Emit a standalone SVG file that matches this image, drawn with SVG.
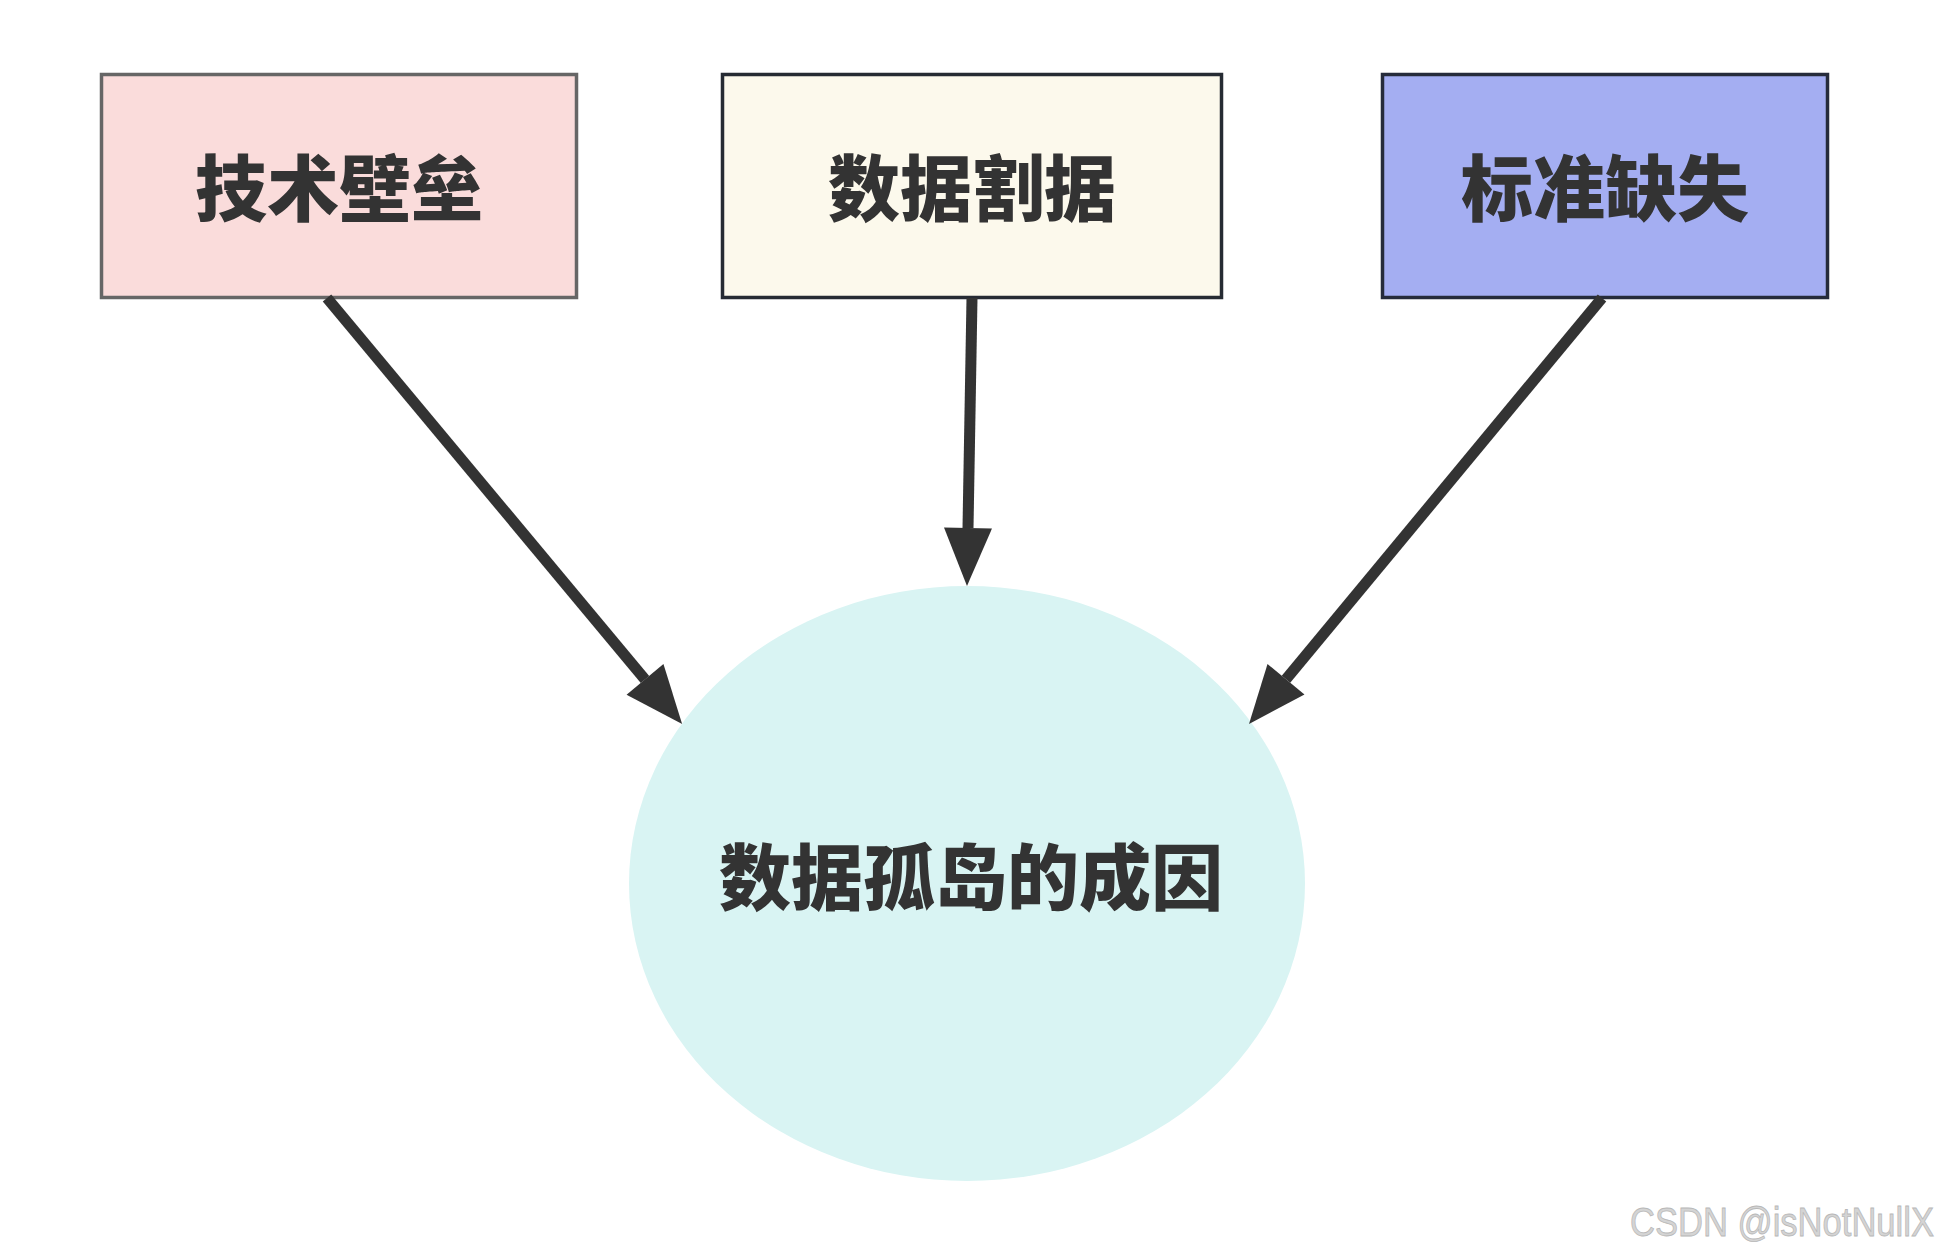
<svg xmlns="http://www.w3.org/2000/svg" width="1944" height="1254" viewBox="0 0 1944 1254">
<style>
.lbl{font-family:"Noto Sans CJK SC","Noto Sans",sans-serif;font-weight:900;font-size:72px;fill:#333333;text-anchor:middle;dominant-baseline:central}
.edge{stroke:#333333;stroke-width:11;fill:none}
.wm{font-family:"Liberation Sans",Arial,sans-serif;font-size:40px;fill:#d4d4d4;stroke:#b8b8b8;stroke-width:0.8}
</style>
<defs>
<marker id="ah" markerUnits="userSpaceOnUse" markerWidth="60" markerHeight="50" refX="0" refY="24" orient="auto" overflow="visible">
<path d="M0,0 L58,24 L0,48 Z" fill="#333333"/>
</marker>
</defs>
<rect width="1944" height="1254" fill="#ffffff"/>
<g id="node-jishu">
<rect x="101.5" y="74.5" width="475" height="223" fill="#fadcdb" stroke="#666666" stroke-width="3.5"/>
<text class="lbl" x="339" y="183">技术壁垒</text>
</g>
<g id="node-geju">
<rect x="722.5" y="74.5" width="499" height="223" fill="#fcf9ec" stroke="#262b33" stroke-width="3.5"/>
<text class="lbl" x="972" y="183">数据割据</text>
</g>
<g id="node-biaozhun">
<rect x="1382.5" y="74.5" width="445" height="223" fill="#a4aef2" stroke="#262c3b" stroke-width="3.5"/>
<text class="lbl" x="1605" y="183">标准缺失</text>
</g>
<g id="node-gudao">
<ellipse cx="967" cy="883.5" rx="338" ry="297.5" fill="#d9f4f3"/>
<text class="lbl" x="971" y="872">数据孤岛的成因</text>
</g>
<g id="connectors">
<line class="edge" x1="327" y1="298" x2="645" y2="679.4" marker-end="url(#ah)"/>
<line class="edge" x1="972" y1="298" x2="968" y2="528" marker-end="url(#ah)"/>
<line class="edge" x1="1602" y1="298" x2="1286" y2="679.3" marker-end="url(#ah)"/>
</g>
<text class="wm" x="1630" y="1236" textLength="304" lengthAdjust="spacingAndGlyphs">CSDN @isNotNullX</text>
</svg>
